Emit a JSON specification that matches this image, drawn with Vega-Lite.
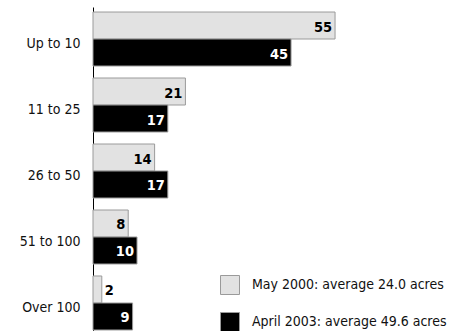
{
  "$schema": "https://vega.github.io/schema/vega-lite/v6.json",
  "autosize": {"type": "none"},
  "padding": {"left": 93, "top": 7, "right": 0, "bottom": 0},
  "width": 371,
  "height": 328,
  "config": {"view": {"stroke": null}, "font": "'Liberation Sans Narrow', 'DejaVu Sans Condensed', sans-serif"},
  "data": {"values": [
    {"size": "Up to 10", "series": "May 2000: average 24.0 acres", "value": 55},
    {"size": "Up to 10", "series": "April 2003: average 49.6 acres", "value": 45},
    {"size": "11 to 25", "series": "May 2000: average 24.0 acres", "value": 21},
    {"size": "11 to 25", "series": "April 2003: average 49.6 acres", "value": 17},
    {"size": "26 to 50", "series": "May 2000: average 24.0 acres", "value": 14},
    {"size": "26 to 50", "series": "April 2003: average 49.6 acres", "value": 17},
    {"size": "51 to 100", "series": "May 2000: average 24.0 acres", "value": 8},
    {"size": "51 to 100", "series": "April 2003: average 49.6 acres", "value": 10},
    {"size": "Over 100", "series": "May 2000: average 24.0 acres", "value": 2},
    {"size": "Over 100", "series": "April 2003: average 49.6 acres", "value": 9}
  ]},
  "encoding": {
    "y": {"field": "size", "type": "nominal", "sort": null,
      "scale": {"paddingInner": 0.182, "paddingOuter": 0.076},
      "axis": {"title": null, "ticks": false, "domainColor": "black", "domainWidth": 1, "labelFontSize": 14, "labelColor": "#111", "labelPadding": 13, "labelOffset": 5, "labelFont": "'Liberation Sans Narrow', 'DejaVu Sans Condensed', sans-serif"}},
    "yOffset": {"field": "series", "type": "nominal", "sort": ["May 2000: average 24.0 acres", "April 2003: average 49.6 acres"]},
    "x": {"field": "value", "type": "quantitative", "scale": {"domain": [0, 84.3]}, "axis": null}
  },
  "layer": [
    {
      "mark": {"type": "bar", "stroke": "#9a9a9a", "strokeWidth": 1},
      "encoding": {
        "color": {"field": "series", "type": "nominal", "sort": ["May 2000: average 24.0 acres", "April 2003: average 49.6 acres"],
          "scale": {"range": ["#e2e2e2", "#000000"]},
          "legend": {"title": null, "orient": "none", "legendX": 127, "legendY": 268, "padding": 0,
            "symbolType": "square", "symbolSize": 361, "symbolStrokeColor": "#9a9a9a", "symbolStrokeWidth": 1,
            "labelFontSize": 14, "labelFont": "'Liberation Sans Narrow', 'DejaVu Sans Condensed', sans-serif", "labelColor": "#111", "labelOffset": 12, "rowPadding": 13, "labelLimit": 400}}
      }
    },
    {
      "transform": [{"filter": "datum.value >= 5"}],
      "mark": {"type": "text", "align": "right", "dx": -3, "dy": 2, "fontWeight": "bold", "fontSize": 14.5, "font": "'Liberation Sans Narrow', 'DejaVu Sans Condensed', sans-serif"},
      "encoding": {
        "text": {"field": "value", "type": "quantitative"},
        "color": {"condition": {"test": "datum.series == 'April 2003: average 49.6 acres'", "value": "white"}, "value": "black"}
      }
    },
    {
      "transform": [{"filter": "datum.value < 5"}],
      "mark": {"type": "text", "align": "left", "dx": 3, "dy": 2, "fontWeight": "bold", "fontSize": 14.5, "font": "'Liberation Sans Narrow', 'DejaVu Sans Condensed', sans-serif", "color": "black"},
      "encoding": {
        "text": {"field": "value", "type": "quantitative"}
      }
    }
  ]
}
